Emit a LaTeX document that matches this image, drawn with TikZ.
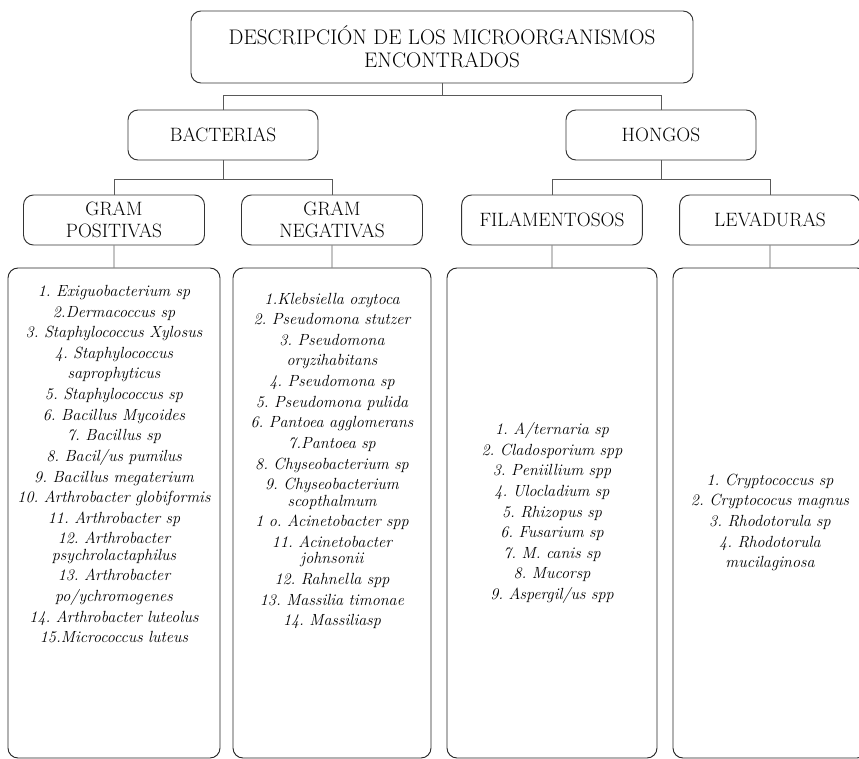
\documentclass[tikz,border=0pt]{standalone}
\usepackage{fontspec}
\usepackage{tikz}
\usetikzlibrary{trees}

\newcommand{\listgap}[1]{\par\vspace{#1}\null}

\tikzset{
  headbox/.style={draw=black!80, line width=0.8pt, rounded corners=0.3cm, align=center,
    text=black, font=\fontsize{16.5}{18.7}\selectfont, inner sep=0pt, minimum height=1.5cm},
  listbox/.style={draw=black!85, line width=0.8pt, rounded corners=0.3cm, align=center,
    text=black, font=\fontsize{13.8}{17.6}\selectfont\itshape\frenchspacing, inner sep=0pt, minimum height=14.7cm},
  forkdown/.style={edge from parent path={(\tikzparentnode.south) -- +(0,-#1) -| (\tikzchildnode.north)}}
}

\begin{document}
\begin{tikzpicture}[
  edge from parent/.style={draw=black!65, line width=0.8pt},
  level 1/.style={sibling distance=13.14cm, level distance=2.64cm, forkdown=0.36cm},
  level 2/.style={sibling distance=6.54cm, level distance=2.55cm, forkdown=0.57cm},
  level 3/.style={level distance=8.79cm,
    edge from parent path={(\tikzparentnode.south) -- (\tikzchildnode.north)}}]
  \clip (0,0) rectangle (25.77,-22.77);
  \node[headbox, minimum width=15.06cm, minimum height=2.16cm, font=\fontsize{18}{20}\selectfont]
    (desc) at (13.26,-1.41) {DESCRIPCIÓN DE LOS MICROORGANISMOS\\ENCONTRADOS}
    child {node[headbox, minimum width=5.7cm] (bact) {BACTERIAS}
      child {node[headbox, minimum width=5.43cm] (gpos) {GRAM\\POSITIVAS}
        child {node[listbox, text width=6.36cm] (lgpos) {1. Exiguobacterium sp\\
          2.Dermacoccus sp\\ 3. Staphylococcus Xylosus\\ 4. Staphylococcus\\
          saprophyticus\\ 5. Staphylococcus sp\\ 6. Bacillus Mycoides\\
          7. Bacillus sp\\ 8. Bacil/us pumilus\\ 9. Bacillus megaterium\\
          10. Arthrobacter globiformis\\ 11. Arthrobacter sp\\
          12. Arthrobacter\\[-3.5pt] psychrolactaphilus\\ 13. Arthrobacter\\
          po/ychromogenes\\ 14. Arthrobacter luteolus\\ 15.Micrococcus luteus
          \listgap{66pt}}}}
      child {node[headbox, minimum width=5.43cm] (gneg) {GRAM\\NEGATIVAS}
        child {node[listbox, text width=5.94cm] (lgneg) {1.Klebsiella oxytoca\\
          2. Pseudomona stutzer\\ 3. Pseudomona\\ oryzihabitans\\
          4. Pseudomona sp\\ 5. Pseudomona pulida\\ 6. Pantoea agglomerans\\
          7.Pantoea sp\\ 8. Chyseobacterium sp\\ 9. Chyseobacterium\\[-3.5pt]
          scopthalmum\\ 1 o. Acinetobacter spp\\ 11. Acinetobacter\\[-3.5pt]
          johnsonii\\ 12. Rahnella spp\\ 13. Massilia timonae\\ 14. Massiliasp
          \listgap{74pt}}}}
    }
    child {node[headbox, minimum width=5.7cm] (hong) {HONGOS}
      child {node[headbox, minimum width=5.42cm] (fila) {FILAMENTOSOS}
        child {node[listbox, text width=6.3cm] (lfila) {1. A/ternaria sp\\
          2. Cladosporium spp\\ 3. Peniillium spp\\ 4. Ulocladium sp\\
          5. Rhizopus sp\\ 6. Fusarium sp\\ 7. M. canis sp\\ 8. Mucorsp\\
          9. Aspergil/us spp}}}
      child {node[headbox, minimum width=5.42cm] (leva) {LEVADURAS}
        child {node[listbox, text width=5.82cm] (lleva) {1. Cryptococcus sp\\
          2. Cryptococus magnus\\ 3. Rhodotorula sp\\ 4. Rhodotorula\\
          mucilaginosa\listgap{-31pt}}}}
    };
\end{tikzpicture}
\end{document}
